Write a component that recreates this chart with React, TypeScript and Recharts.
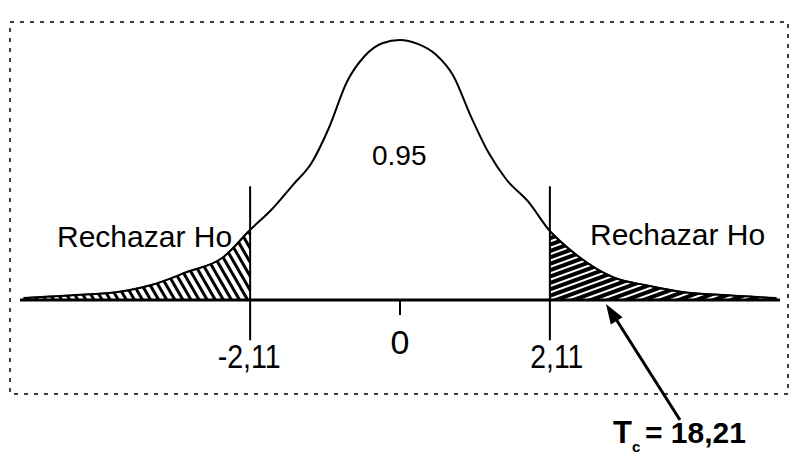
import { ComposedChart, Line, Area, XAxis, YAxis, ReferenceLine } from 'recharts';

// t values along the curve and the drawn height of the bell (density-like units)
const tValues = [
  -5.3, -4.5, -4, -3.5, -3, -2.5, -2.11, -1.8, -1.5, -1.25, -1, -0.75, -0.5, -0.25, 0,
  0.25, 0.5, 0.75, 1, 1.25, 1.5, 1.8, 2.11, 2.5, 3, 3.5, 4, 4.5, 5.3,
];
const density = [
  0.003, 0.008, 0.012, 0.023, 0.043, 0.065, 0.108, 0.14, 0.178, 0.21, 0.265, 0.335, 0.375, 0.395, 0.4,
  0.394, 0.378, 0.345, 0.282, 0.226, 0.185, 0.152, 0.106, 0.068, 0.035, 0.022, 0.012, 0.008, 0.003,
];

const critical = 2.11;
const tickValues = [-2.11, 0, 2.11];
const tickLabels = ['-2,11', '0', '2,11'];

const data = tValues.map((t, i) => ({
  t,
  y: density[i],
  tailL: t <= -critical ? density[i] : null,
  tailR: t >= critical ? density[i] : null,
}));

const FONT = '"Liberation Sans", Arial, sans-serif';

// tick label offsets so the comma sits on the critical line, like the scan
const tickOffsets: Record<string, { dx: number; base: number }> = {
  '-2,11': { dx: -1, base: 368 },
  '0': { dx: 0, base: 354 },
  '2,11': { dx: 7, base: 368 },
};

const CustomTick = ({ x, payload }: any) => {
  const idx = tickValues.indexOf(payload.value);
  const label = tickLabels[idx] ?? String(payload.value);
  const off = tickOffsets[label] || { dx: 0, base: 360 };
  const len = label === '0' ? undefined : label === '-2,11' ? 63 : 53;
  return (
    <g>
      {label === '0' && <line x1={x} x2={x} y1={300} y2={315} stroke="#000" strokeWidth={2} />}
      <text
        x={x + off.dx}
        y={off.base}
        textAnchor="middle"
        fontFamily={FONT}
        fontSize={34}
        fill="#000"
        textLength={len}
        lengthAdjust={len ? 'spacingAndGlyphs' : undefined}
      >
        {label}
      </text>
    </g>
  );
};

export default function App() {
  return (
    <div style={{ position: 'absolute', left: 0, top: 0, width: 792, height: 462, background: '#fff' }}>
      <ComposedChart
        width={792}
        height={462}
        data={data}
        margin={{ top: 40, right: 12, left: 20, bottom: 132 }}
      >
        <defs>
          <pattern id="hatchL" width="7" height="7" patternUnits="userSpaceOnUse" patternTransform="rotate(-30)">
            <rect width="7" height="7" fill="#fff" />
            <rect width="3" height="7" fill="#000" />
          </pattern>
          <pattern id="hatchR" width="6" height="6" patternUnits="userSpaceOnUse" patternTransform="rotate(-20)">
            <rect width="6" height="6" fill="#000" />
            <rect width="6" height="2" fill="#fff" />
          </pattern>
        </defs>
        <XAxis
          type="number"
          dataKey="t"
          domain={[-5.35, 5.35]}
          ticks={tickValues}
          height={30}
          tickSize={0}
          tickLine={false}
          axisLine={{ stroke: '#000', strokeWidth: 3 }}
          tick={<CustomTick />}
          interval={0}
        />
        <YAxis hide domain={[0, 0.4]} />
        <Area
          type="monotone"
          dataKey="tailL"
          fill="url(#hatchL)"
          fillOpacity={1}
          stroke="#000"
          strokeWidth={1.5}
          connectNulls={false}
          isAnimationActive={false}
        />
        <Area
          type="monotone"
          dataKey="tailR"
          fill="url(#hatchR)"
          fillOpacity={1}
          stroke="#000"
          strokeWidth={1.5}
          connectNulls={false}
          isAnimationActive={false}
        />
        <Line type="monotone" dataKey="y" stroke="#000" strokeWidth={2} dot={false} isAnimationActive={false} />
        <ReferenceLine
          segment={[{ x: -critical, y: 0.175 }, { x: -critical, y: -0.062 }]}
          stroke="#000"
          strokeWidth={2}
          ifOverflow="visible"
        />
        <ReferenceLine
          segment={[{ x: critical, y: 0.175 }, { x: critical, y: -0.062 }]}
          stroke="#000"
          strokeWidth={2}
          ifOverflow="visible"
        />
      </ComposedChart>
      <svg
        width={792}
        height={462}
        style={{ position: 'absolute', left: 0, top: 0, pointerEvents: 'none' }}
      >
        <rect x={10} y={22} width={778} height={372} fill="none" stroke="#000" strokeWidth={1.5} strokeDasharray="4 6" />
        <text x={57} y={247} fontFamily={FONT} fontSize={30} fill="#000">Rechazar Ho</text>
        <text x={590} y={245} fontFamily={FONT} fontSize={30} fill="#000">Rechazar Ho</text>
        <text x={372} y={165} fontFamily={FONT} fontSize={28} fill="#000">0.95</text>
        <line x1={680} y1={420} x2={614} y2={316} stroke="#000" strokeWidth={3} />
        <polygon points="606,304 622.6,317.2 610.8,324.6" fill="#000" />
        <text x={613} y={443} fontFamily={FONT} fontSize={31} fontWeight="bold" fill="#000">T</text>
        <text x={632} y={452} fontFamily={FONT} fontSize={15} fontWeight="bold" fill="#000">c</text>
        <text x={645} y={443} fontFamily={FONT} fontSize={30} fontWeight="bold" fill="#000">= 18,21</text>
      </svg>
    </div>
  );
}
